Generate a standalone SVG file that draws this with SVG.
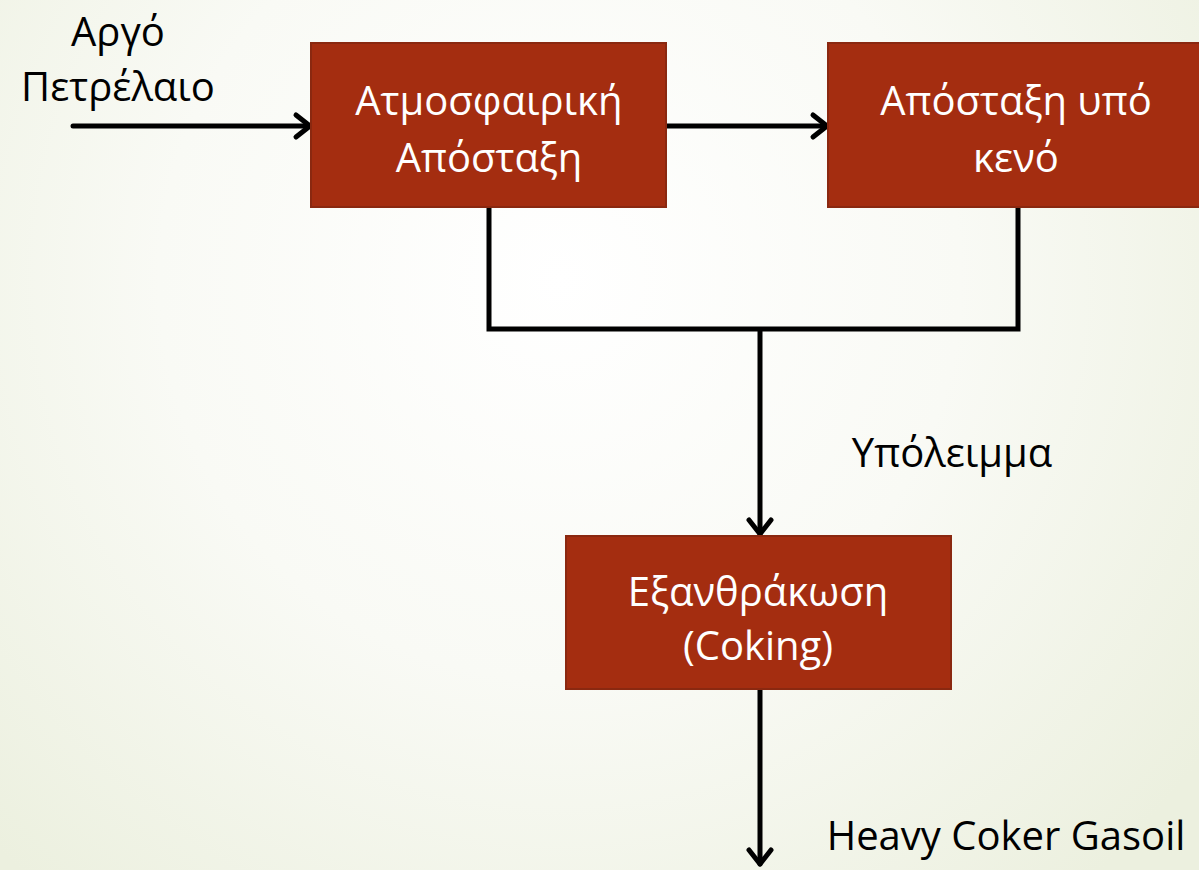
<svg xmlns="http://www.w3.org/2000/svg" width="1199" height="870" viewBox="0 0 1199 870">
<defs>
<radialGradient id="bg" cx="560" cy="280" r="800" gradientUnits="userSpaceOnUse">
<stop offset="0" stop-color="#ffffff"/>
<stop offset="0.5" stop-color="#f9faf5"/>
<stop offset="1" stop-color="#ecf0df"/>
</radialGradient>
<marker id="arr" viewBox="0 0 30 30" refX="26" refY="15" markerWidth="30" markerHeight="30" markerUnits="userSpaceOnUse" orient="auto">
<path d="M12,4 L26,15 L12,26" fill="none" stroke="#000" stroke-width="5" stroke-linecap="round" stroke-linejoin="round"/>
</marker>
</defs>
<style>
.box{fill:#a42d10;stroke:#8a2810;stroke-width:2}
.bt{fill:#ffffff;font-family:"Open Sans","Liberation Sans",sans-serif;font-size:40px;text-anchor:middle}
.lt{fill:#000000;font-family:"Open Sans","Liberation Sans",sans-serif;font-size:40px}
.c{fill:none;stroke:#000;stroke-width:5;stroke-linecap:round;stroke-linejoin:miter}
</style>
<rect width="1199" height="870" fill="url(#bg)"/>
<g id="connectors">
<line class="c" x1="73" y1="126" x2="310" y2="126" marker-end="url(#arr)"/>
<line class="c" x1="667" y1="126" x2="827" y2="126" marker-end="url(#arr)"/>
<polyline class="c" points="489,207 489,329 1018,329 1018,207"/>
<line class="c" x1="760" y1="331" x2="760" y2="534" marker-end="url(#arr)"/>
<line class="c" x1="760" y1="689" x2="760" y2="864" marker-end="url(#arr)"/>
</g>
<g id="label-input">
<text class="lt" x="118" y="46" text-anchor="middle">Αργό</text>
<text class="lt" x="118" y="101" text-anchor="middle">Πετρέλαιο</text>
</g>
<g id="node-atm">
<rect class="box" x="311" y="43" width="355" height="164"/>
<text class="bt" x="489" y="115">Ατμοσφαιρική</text>
<text class="bt" x="489" y="172">Απόσταξη</text>
</g>
<g id="node-vac">
<rect class="box" x="828" y="43" width="380" height="164"/>
<text class="bt" x="1016" y="115">Απόσταξη υπό</text>
<text class="bt" x="1016" y="172">κενό</text>
</g>
<g id="label-residue">
<text class="lt" x="952" y="467" text-anchor="middle">Υπόλειμμα</text>
</g>
<g id="node-coking">
<rect class="box" x="566" y="536" width="385" height="153"/>
<text class="bt" x="758" y="606">Εξανθράκωση</text>
<text class="bt" x="758" y="660">(Coking)</text>
</g>
<g id="label-output">
<text class="lt" x="1006" y="850" text-anchor="middle">Heavy Coker Gasoil</text>
</g>
</svg>
